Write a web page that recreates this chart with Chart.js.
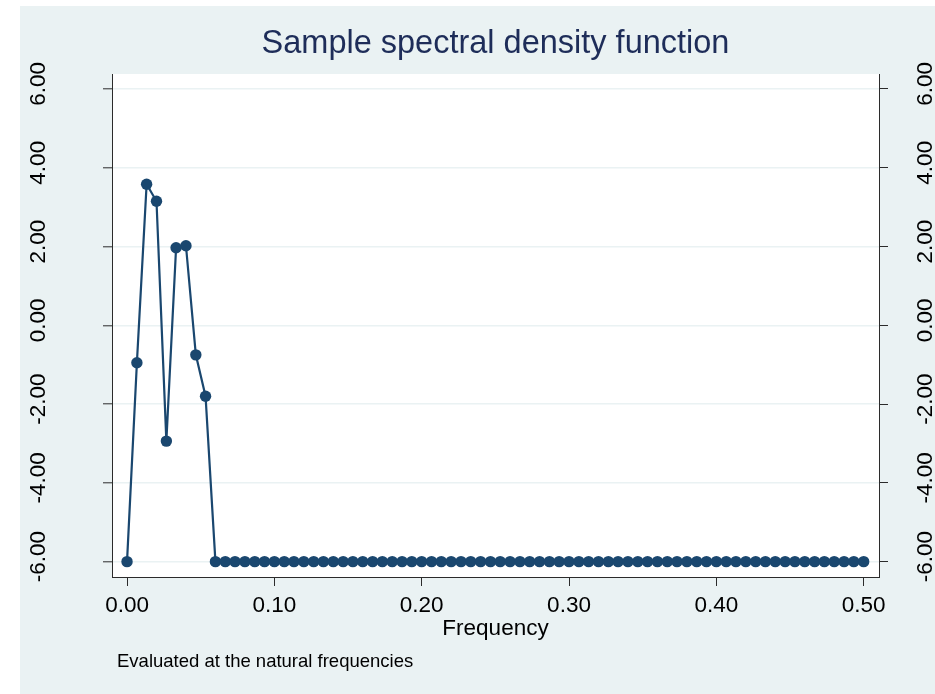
<!DOCTYPE html>
<html>
<head>
<meta charset="utf-8">
<script src="https://cdn.jsdelivr.net/npm/chart.js@4"></script>
<style>
  html, body { margin: 0; padding: 0; background: #ffffff; }
  #chart { display: block; }
</style>
</head>
<body>
<canvas id="chart" width="935" height="694"></canvas>
<script>
// Natural frequencies (k/150) and sample spectral density values
const frequencies = [
  0.0000, 0.0067, 0.0133, 0.0200, 0.0267, 0.0333, 0.0400, 0.0467, 0.0533, 0.0600, 0.0667, 0.0733, 0.0800, 0.0867, 0.0933,
  0.1000, 0.1067, 0.1133, 0.1200, 0.1267, 0.1333, 0.1400, 0.1467, 0.1533, 0.1600, 0.1667, 0.1733, 0.1800, 0.1867, 0.1933,
  0.2000, 0.2067, 0.2133, 0.2200, 0.2267, 0.2333, 0.2400, 0.2467, 0.2533, 0.2600, 0.2667, 0.2733, 0.2800, 0.2867, 0.2933,
  0.3000, 0.3067, 0.3133, 0.3200, 0.3267, 0.3333, 0.3400, 0.3467, 0.3533, 0.3600, 0.3667, 0.3733, 0.3800, 0.3867, 0.3933,
  0.4000, 0.4067, 0.4133, 0.4200, 0.4267, 0.4333, 0.4400, 0.4467, 0.4533, 0.4600, 0.4667, 0.4733, 0.4800, 0.4867, 0.4933,
  0.5000
];
const density = [
  -6.00, -0.95, 3.58, 3.15, -2.94, 1.97, 2.02, -0.75, -1.80, -6.00, -6.00, -6.00, -6.00, -6.00, -6.00,
  -6.00, -6.00, -6.00, -6.00, -6.00, -6.00, -6.00, -6.00, -6.00, -6.00, -6.00, -6.00, -6.00, -6.00, -6.00,
  -6.00, -6.00, -6.00, -6.00, -6.00, -6.00, -6.00, -6.00, -6.00, -6.00, -6.00, -6.00, -6.00, -6.00, -6.00,
  -6.00, -6.00, -6.00, -6.00, -6.00, -6.00, -6.00, -6.00, -6.00, -6.00, -6.00, -6.00, -6.00, -6.00, -6.00,
  -6.00, -6.00, -6.00, -6.00, -6.00, -6.00, -6.00, -6.00, -6.00, -6.00, -6.00, -6.00, -6.00, -6.00, -6.00,
  -6.00
];
const yTicks = [-6, -4, -2, 0, 2, 4, 6];
const xTicks = [0, 0.1, 0.2, 0.3, 0.4, 0.5];

const FONT = '"Liberation Sans", Arial, Helvetica, sans-serif';
const NAVY = '#1a476f';
const BG = '#eaf2f3';
const AXIS = '#2b2b2b';

const fmt = v => {
  const s = Number(v).toFixed(2);
  return s === '-0.00' ? '0.00' : s;
};

// background (graph region + white plot region) and note text
const stataBackground = {
  id: 'stataBackground',
  beforeDraw(chart) {
    const { ctx, chartArea: a } = chart;
    ctx.save();
    ctx.fillStyle = BG;
    ctx.fillRect(20, 6, chart.width - 20, chart.height - 6);
    ctx.fillStyle = '#ffffff';
    ctx.fillRect(a.left, a.top, a.right - a.left, a.bottom - a.top);
    ctx.restore();
  },
  afterDraw(chart) {
    const ctx = chart.ctx;
    ctx.save();
    ctx.font = '18.5px ' + FONT;
    ctx.fillStyle = '#000000';
    ctx.textBaseline = 'alphabetic';
    ctx.textAlign = 'left';
    ctx.fillText('Evaluated at the natural frequencies', 117, 667);
    ctx.restore();
  }
};

const yScaleBase = {
  type: 'linear',
  min: -6.39,
  max: 6.38,
  afterBuildTicks(scale) {
    scale.ticks = yTicks.map(v => ({ value: v }));
  },
  ticks: {
    includeBounds: false,
    minRotation: 90,
    maxRotation: 90,
    crossAlign: 'center',
    labelOffset: -5,
    color: '#000000',
    font: { family: FONT, size: 22.5 },
    callback: v => fmt(v)
  }
};

new Chart(document.getElementById('chart'), {
  type: 'line',
  data: {
    datasets: [{
      label: 'Sample spectral density',
      data: frequencies.map((f, i) => ({ x: f, y: density[i] })),
      borderColor: NAVY,
      backgroundColor: NAVY,
      borderWidth: 2.2,
      pointRadius: 5.7,
      pointBorderWidth: 0,
      pointBackgroundColor: NAVY,
      tension: 0
    }]
  },
  plugins: [stataBackground],
  options: {
    responsive: false,
    animation: false,
    layout: { padding: { left: 0, right: 0, top: 0, bottom: 37 }, autoPadding: false },
    plugins: {
      legend: { display: false },
      tooltip: { enabled: false },
      title: {
        display: true,
        text: 'Sample spectral density function',
        fullSize: false,
        color: '#1e2d59',
        font: { family: FONT, size: 32.5, weight: 'normal', lineHeight: 1.2 },
        padding: { top: 25, bottom: 10 }
      }
    },
    scales: {
      x: {
        type: 'linear',
        position: 'bottom',
        min: -0.0102,
        max: 0.5104,
        afterBuildTicks(scale) {
          scale.ticks = xTicks.map(v => ({ value: v }));
        },
        afterFit(scale) { scale.height = 80; },
        grid: { drawOnChartArea: false, tickLength: 9, tickColor: AXIS, tickWidth: 1 },
        border: { display: true, color: AXIS, width: 1 },
        ticks: {
          padding: 6,
          color: '#000000',
          maxRotation: 0,
          font: { family: FONT, size: 22.5 },
          callback: v => fmt(v)
        },
        title: {
          display: true,
          text: 'Frequency',
          color: '#000000',
          font: { family: FONT, size: 22.5, lineHeight: 1.2 },
          padding: { top: 0, bottom: 14.5 }
        }
      },
      y: Object.assign({}, yScaleBase, {
        position: 'left',
        afterFit(scale) { scale.width = 112; },
        grid: { color: BG, lineWidth: 1.6, tickLength: 9, tickColor: AXIS, tickWidth: 1 },
        border: { display: true, color: AXIS, width: 1 },
        ticks: Object.assign({}, yScaleBase.ticks, { padding: 39 })
      }),
      y2: Object.assign({}, yScaleBase, {
        position: 'right',
        afterFit(scale) { scale.width = 56; },
        grid: { drawOnChartArea: false, tickLength: 9, tickColor: AXIS, tickWidth: 1 },
        border: { display: true, color: AXIS, width: 1 },
        ticks: Object.assign({}, yScaleBase.ticks, { padding: 12.5 })
      })
    }
  }
});
</script>
</body>
</html>
